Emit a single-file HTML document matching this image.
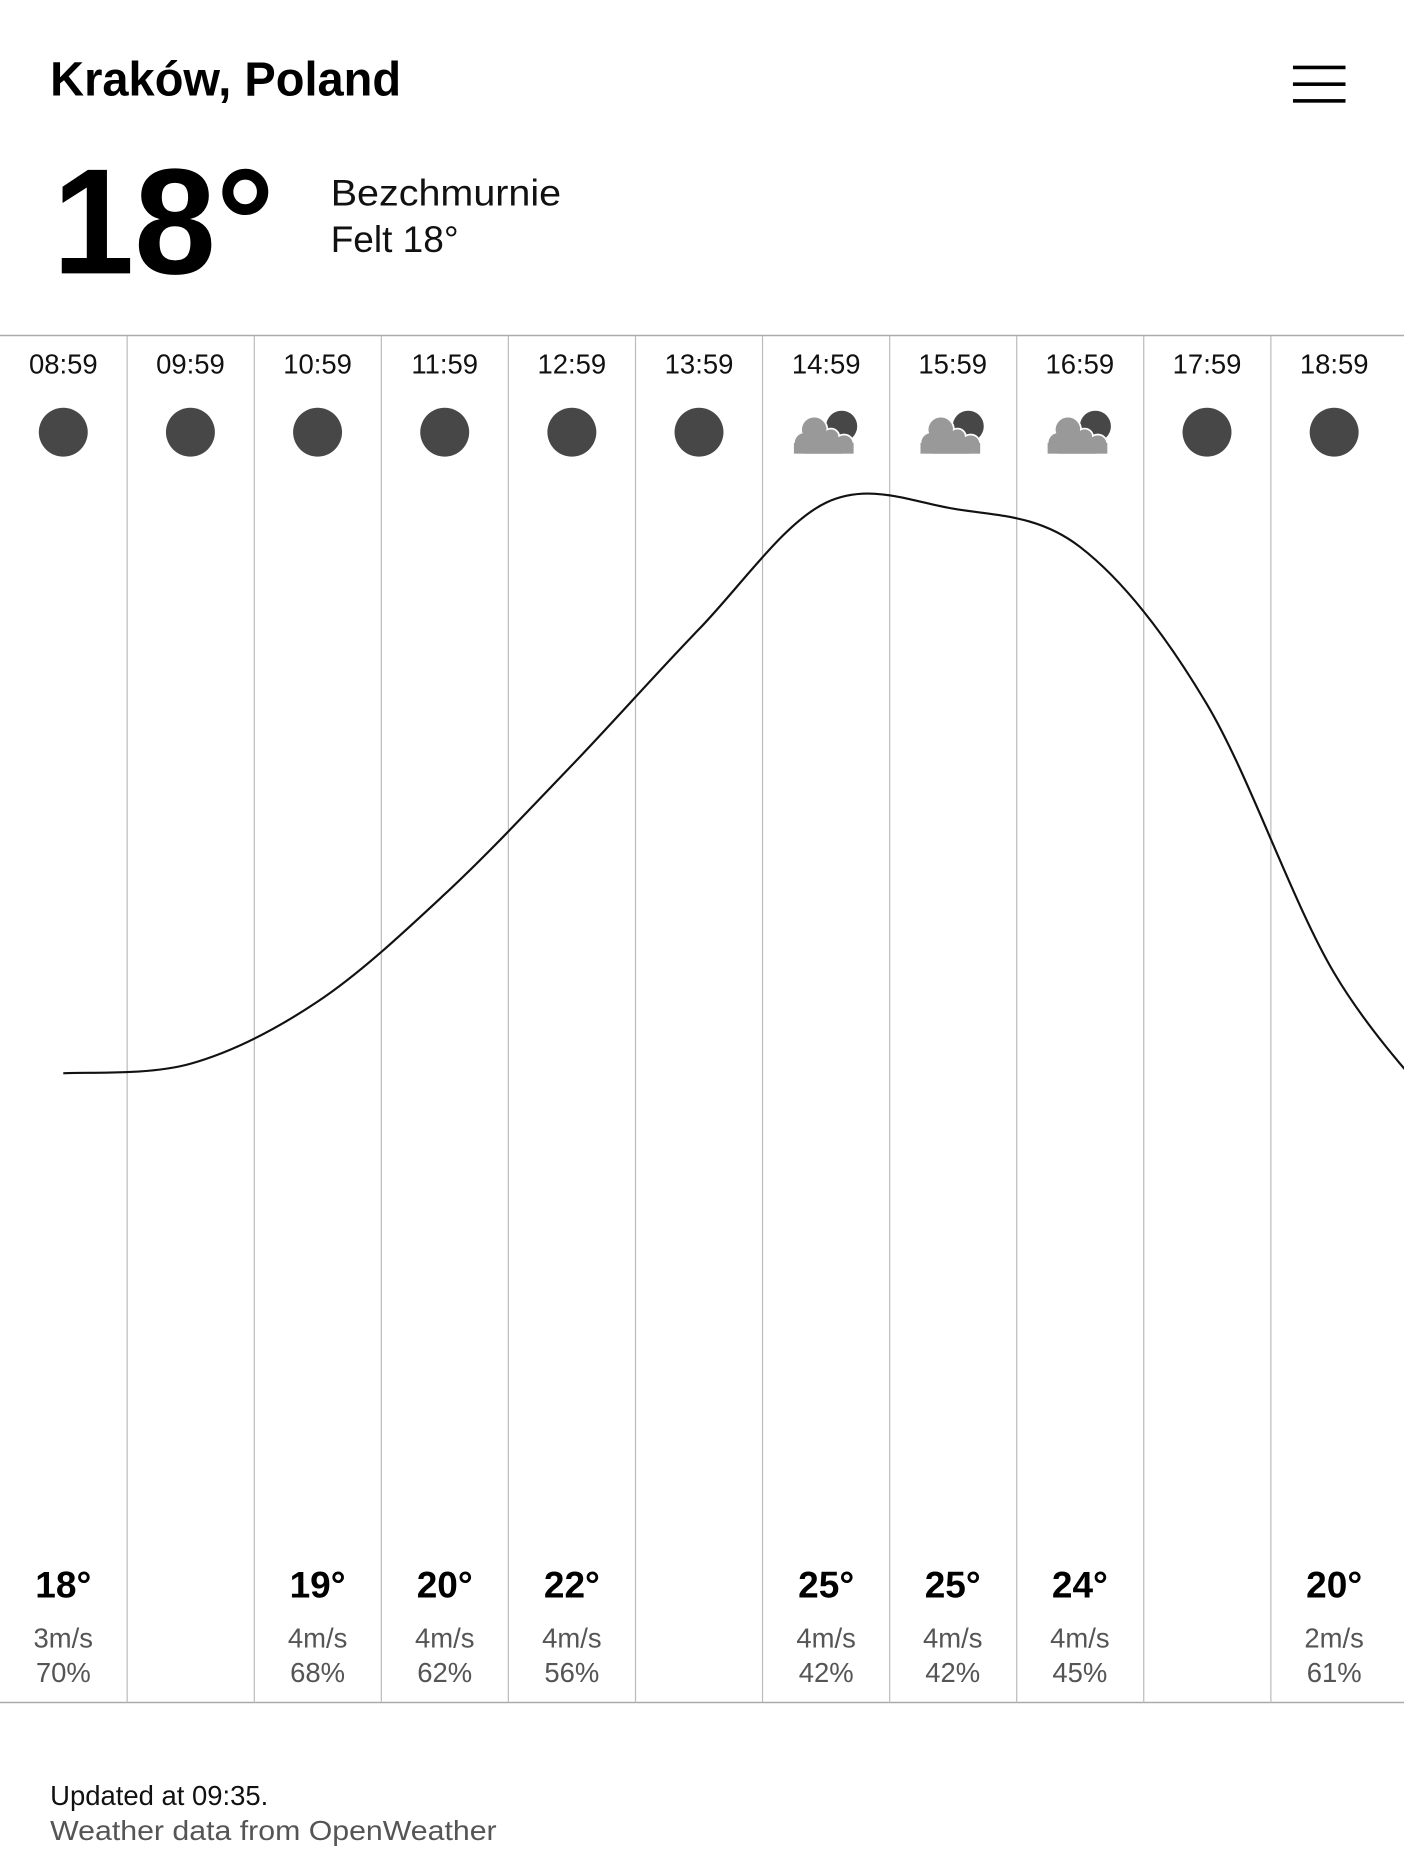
<!DOCTYPE html>
<html><head><meta charset="utf-8"><style>
html,body{margin:0;padding:0;background:#fff;}
svg{display:block;}
text{font-family:"Liberation Sans",sans-serif;}
</style></head><body>
<svg width="1404" height="1872" viewBox="0 0 1176 1568" xmlns="http://www.w3.org/2000/svg">
<rect width="1176" height="1568" fill="#fff"/>
<text x="42" y="80" font-size="40" font-weight="bold" fill="#000" textLength="294" lengthAdjust="spacingAndGlyphs">Kraków, Poland</text>
<g fill="#000"><rect x="1083" y="55" width="44" height="3"/><rect x="1083" y="69" width="44" height="3"/><rect x="1083" y="83" width="44" height="3"/></g>
<text x="44" y="229" font-size="126" font-weight="bold" fill="#000" textLength="186" lengthAdjust="spacingAndGlyphs">18°</text>
<text x="277" y="172" font-size="31" fill="#111" textLength="193" lengthAdjust="spacingAndGlyphs">Bezchmurnie</text>
<text x="277" y="211" font-size="31" fill="#111">Felt 18°</text>
<line x1="0" y1="281" x2="1176" y2="281" stroke="#aaa" stroke-width="1.3"/>
<line x1="0" y1="1426" x2="1176" y2="1426" stroke="#aaa" stroke-width="1.3"/>
<g stroke="#bbb" stroke-width="1">
<line x1="106.5" y1="281" x2="106.5" y2="1426"/><line x1="213" y1="281" x2="213" y2="1426"/><line x1="319.4" y1="281" x2="319.4" y2="1426"/><line x1="425.8" y1="281" x2="425.8" y2="1426"/><line x1="532.3" y1="281" x2="532.3" y2="1426"/><line x1="638.7" y1="281" x2="638.7" y2="1426"/><line x1="745.2" y1="281" x2="745.2" y2="1426"/><line x1="851.6" y1="281" x2="851.6" y2="1426"/><line x1="958" y1="281" x2="958" y2="1426"/><line x1="1064.5" y1="281" x2="1064.5" y2="1426"/>
</g>
<g font-size="23" fill="#111" text-anchor="middle">
<text x="53" y="313">08:59</text><text x="159.5" y="313">09:59</text><text x="266" y="313">10:59</text><text x="372.5" y="313">11:59</text><text x="479" y="313">12:59</text><text x="585.5" y="313">13:59</text><text x="692" y="313">14:59</text><text x="798" y="313">15:59</text><text x="904.5" y="313">16:59</text><text x="1011" y="313">17:59</text><text x="1117.5" y="313">18:59</text>
</g>
<g fill="#474747">
<circle cx="53" cy="362" r="20.5"/><circle cx="159.5" cy="362" r="20.5"/><circle cx="266" cy="362" r="20.5"/><circle cx="372.5" cy="362" r="20.5"/><circle cx="479" cy="362" r="20.5"/><circle cx="585.5" cy="362" r="20.5"/><circle cx="1011" cy="362" r="20.5"/><circle cx="1117.5" cy="362" r="20.5"/>
</g>
<defs>
<g id="cl">
<circle cx="13" cy="-5" r="13" fill="#474747"/>
<g fill="#999" stroke="#fff" stroke-width="1.5">
<circle cx="-10" cy="-2" r="11"/><circle cx="4" cy="4" r="7"/><circle cx="15" cy="10" r="8"/><circle cx="-18" cy="9" r="9"/>
</g>
<g fill="#999"><circle cx="-10" cy="-2" r="10.2"/><circle cx="4" cy="4" r="6.2"/><circle cx="15" cy="10" r="7.2"/><circle cx="-18" cy="9" r="8.2"/><rect x="-18" y="4" width="32" height="14"/><rect x="-27" y="9" width="50" height="9"/></g>
</g>
</defs>
<use href="#cl" x="692" y="362"/><use href="#cl" x="798" y="362"/><use href="#cl" x="904.5" y="362"/>
<path id="curve" fill="none" stroke="#111" stroke-width="1.8"/>
<g text-anchor="middle">
<g font-size="31" font-weight="bold" fill="#000">
<text x="53" y="1338">18°</text><text x="266" y="1338">19°</text><text x="372.5" y="1338">20°</text><text x="479" y="1338">22°</text><text x="692" y="1338">25°</text><text x="798" y="1338">25°</text><text x="904.5" y="1338">24°</text><text x="1117.5" y="1338">20°</text>
</g>
<g font-size="23" fill="#555">
<text x="53" y="1380">3m/s</text><text x="266" y="1380">4m/s</text><text x="372.5" y="1380">4m/s</text><text x="479" y="1380">4m/s</text><text x="692" y="1380">4m/s</text><text x="798" y="1380">4m/s</text><text x="904.5" y="1380">4m/s</text><text x="1117.5" y="1380">2m/s</text>
<text x="53" y="1409">70%</text><text x="266" y="1409">68%</text><text x="372.5" y="1409">62%</text><text x="479" y="1409">56%</text><text x="692" y="1409">42%</text><text x="798" y="1409">42%</text><text x="904.5" y="1409">45%</text><text x="1117.5" y="1409">61%</text>
</g>
</g>
<text x="42" y="1512" font-size="23" fill="#111">Updated at 09:35.</text>
<text x="42" y="1541" font-size="23" fill="#555" textLength="374" lengthAdjust="spacingAndGlyphs">Weather data from OpenWeather</text>
</svg>
<script>
var p=[[53,899],[159.5,891],[266,839],[372.5,749],[479,641],[585.5,527],[692,421],[798,426],[904.5,458],[1011,590],[1117.5,815],[1224,950]];
var d="M"+p[0][0]+","+p[0][1];
for(var i=0;i<p.length-1;i++){var a=p[i-1]||p[i],b=p[i],c=p[i+1],e=p[i+2]||c;
d+=" C"+(b[0]+(c[0]-a[0])/6)+","+(b[1]+(c[1]-a[1])/6)+" "+(c[0]-(e[0]-b[0])/6)+","+(c[1]-(e[1]-b[1])/6)+" "+c[0]+","+c[1];}
document.getElementById("curve").setAttribute("d",d);
</script>
</body></html>
